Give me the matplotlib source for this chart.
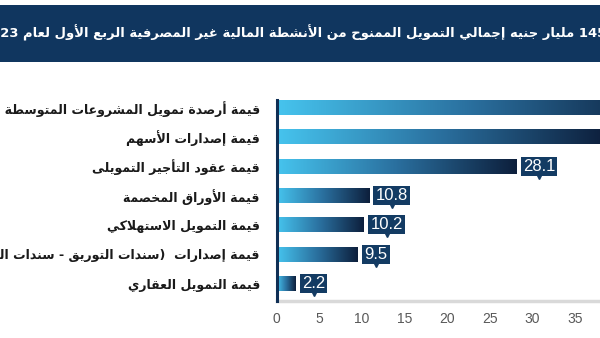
import re
import numpy as np
import matplotlib
matplotlib.use('Agg')
import matplotlib.pyplot as plt
from matplotlib.colors import LinearSegmentedColormap
from matplotlib.patches import Rectangle

title = '145 مليار جنيه إجمالي التمويل الممنوح من الأنشطة المالية غير المصرفية الربع الأول لعام 2023'
categories = [
    'قيمة أرصدة تمويل المشروعات المتوسطة والصغيرة',
    'قيمة إصدارات الأسهم',
    'قيمة عقود التأجير التمويلى',
    'قيمة الأوراق المخصمة',
    'قيمة التمويل الاستهلاكي',
    'قيمة إصدارات  (سندات التوريق - سندات الشركات)',
    'قيمة التمويل العقاري',
]
values = [45.6, 38.6, 28.1, 10.8, 10.2, 9.5, 2.2]
xticks = [0, 5, 10, 15, 20, 25, 30, 35]

# arabic letter -> (isolated presentation form, 1 = no joining, 2 = right joining, 4 = dual joining)
FORMS = {
    'ء': (0xFE80, 1),
    'آ': (0xFE81, 2), 'أ': (0xFE83, 2), 'ؤ': (0xFE85, 2), 'إ': (0xFE87, 2),
    'ئ': (0xFE89, 4), 'ا': (0xFE8D, 2), 'ب': (0xFE8F, 4), 'ة': (0xFE93, 2),
    'ت': (0xFE95, 4), 'ث': (0xFE99, 4), 'ج': (0xFE9D, 4), 'ح': (0xFEA1, 4),
    'خ': (0xFEA5, 4), 'د': (0xFEA9, 2), 'ذ': (0xFEAB, 2), 'ر': (0xFEAD, 2),
    'ز': (0xFEAF, 2), 'س': (0xFEB1, 4), 'ش': (0xFEB5, 4), 'ص': (0xFEB9, 4),
    'ض': (0xFEBD, 4), 'ط': (0xFEC1, 4), 'ظ': (0xFEC5, 4), 'ع': (0xFEC9, 4),
    'غ': (0xFECD, 4), 'ف': (0xFED1, 4), 'ق': (0xFED5, 4), 'ك': (0xFED9, 4),
    'ل': (0xFEDD, 4), 'م': (0xFEE1, 4), 'ن': (0xFEE5, 4), 'ه': (0xFEE9, 4),
    'و': (0xFEED, 2), 'ى': (0xFEEF, 2), 'ي': (0xFEF1, 4),
}
LAM_ALEF = {'آ': 0xFEF5, 'أ': 0xFEF7, 'إ': 0xFEF9, 'ا': 0xFEFB}


def joins_prev(tok):
    return tok[0] in FORMS and FORMS[tok[0]][1] >= 2


def joins_next(tok):
    return len(tok) == 1 and tok in FORMS and FORMS[tok][1] == 4


def shape(text):
    toks = []
    i = 0
    while i < len(text):
        if text[i] == 'ل' and i + 1 < len(text) and text[i + 1] in LAM_ALEF:
            toks.append(text[i:i + 2])
            i += 2
        else:
            toks.append(text[i])
            i += 1
    out = []
    for i, tok in enumerate(toks):
        prev = i > 0 and joins_next(toks[i - 1]) and joins_prev(tok)
        nxt = i < len(toks) - 1 and joins_next(tok) and joins_prev(toks[i + 1])
        if len(tok) == 2:
            out.append(chr(LAM_ALEF[tok[1]] + (1 if prev else 0)))
        elif tok in FORMS:
            base, n = FORMS[tok]
            if n == 4:
                form = 3 if (prev and nxt) else 2 if nxt else 1 if prev else 0
            elif n == 2:
                form = 1 if prev else 0
            else:
                form = 0
            out.append(chr(base + form))
        else:
            out.append(tok)
    return ''.join(out)


def rtl(text):
    s = shape(text)
    parts = re.findall(r'[0-9.]+|[^0-9.]+', s)
    s = ''.join(p if p[0].isdigit() else p[::-1] for p in reversed(parts))
    return s.translate(str.maketrans('()', ')('))


NAVY = '#10365f'
BOX = '#133b63'

fig = plt.figure(figsize=(6, 3.38), dpi=100)
fig.patches.append(Rectangle((0, 1 - 62 / 338), 1, 57 / 338, transform=fig.transFigure,
                             facecolor=NAVY, edgecolor='none', zorder=0))
head = fig.text(1.01, 1 - 33 / 338, rtl(title), ha='right', va='center', color='white',
                fontsize=12, fontweight='bold', family='DejaVu Sans')
# the banner title runs slightly past both edges, as in the original
fig.canvas.draw()
w = head.get_window_extent().width
head.set_fontsize(12 * 622 / w)

ax = fig.add_axes([276.5 / 600, 1 - 301 / 338, 1 - 276.5 / 600, 201 / 338])
ypos = np.arange(len(values))
bars = ax.barh(ypos, values, height=0.51, facecolor='none', edgecolor='none')

cmap = LinearSegmentedColormap.from_list('bar', ['#46c4ee', '#2a6f9e', '#0d1f3c'])
grad = np.linspace(0, 1, 256).reshape(1, -1)
for bar in bars:
    x0, y0, bw, bh = bar.get_x(), bar.get_y(), bar.get_width(), bar.get_height()
    im = ax.imshow(grad, extent=[x0, x0 + bw, y0 + bh, y0], cmap=cmap, aspect='auto',
                   interpolation='bilinear', zorder=2)
    im.set_clip_path(bar)

ax.set_xlim(0, 323.5 / 8.523)
ax.set_ylim(6.58, -0.24)

ax.set_yticks(ypos)
ax.set_yticklabels([rtl(c) for c in categories], fontsize=9, fontweight='bold',
                   color='#1a1a1a', family='DejaVu Sans')
ax.set_xticks(xticks)
ax.set_xticklabels([str(t) for t in xticks], fontsize=10, color='#595959',
                   family='Liberation Sans')
ax.tick_params(axis='y', length=0, pad=12)
ax.tick_params(axis='x', length=0, pad=8)

for s in ['top', 'right']:
    ax.spines[s].set_visible(False)
ax.spines['left'].set_color('#0f2f55')
ax.spines['left'].set_linewidth(2.2)
ax.spines['left'].set_zorder(5)
ax.spines['bottom'].set_color('#d9d9d9')
ax.spines['bottom'].set_linewidth(2.5)

labels = []
for y, v in zip(ypos, values):
    if v < ax.get_xlim()[1]:
        t = ax.annotate(f'{v}', xy=(v, y), xytext=(5, 0), textcoords='offset points',
                        ha='left', va='center', color='white', fontsize=12,
                        family='Liberation Sans', zorder=6,
                        bbox=dict(boxstyle='square,pad=0.12', fc=BOX, ec='none'))
        labels.append(t)

fig.canvas.draw()
inv = ax.transData.inverted()
for t in labels:
    bb = t.get_bbox_patch().get_window_extent()
    px, py = inv.transform(((bb.x0 + bb.x1) / 2, bb.y0))
    ax.plot(px, py, marker='v', ms=5, color=BOX, clip_on=False, zorder=6)

fig.savefig('out.png', dpi=100)
